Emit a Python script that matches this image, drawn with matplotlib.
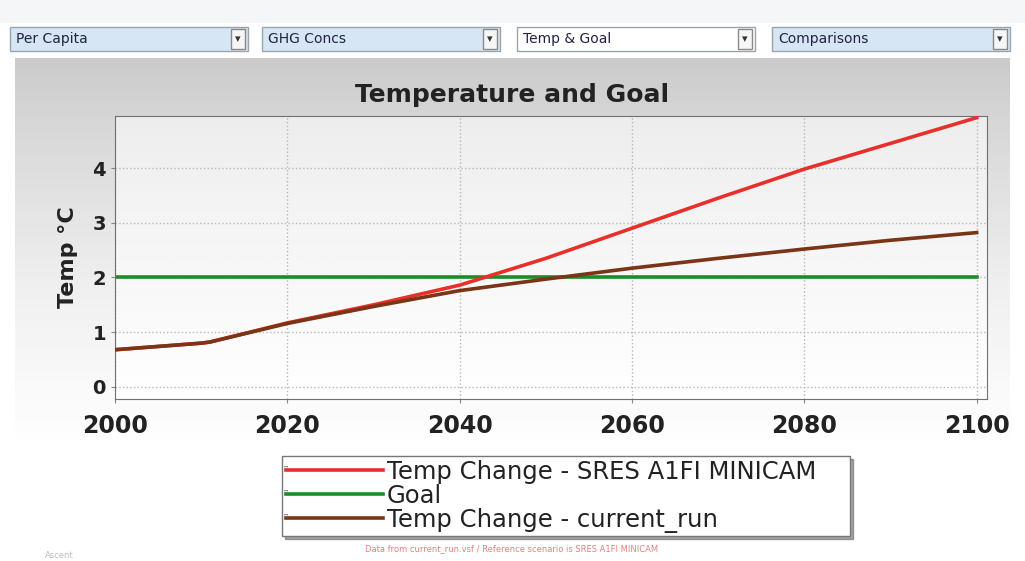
import numpy as np
import matplotlib.pyplot as plt
from matplotlib.patches import Rectangle

# data
years = [2000, 2010, 2011, 2020, 2030, 2040, 2050, 2060, 2070, 2080, 2090, 2100]
sres_a1fi = [0.68, 0.80, 0.82, 1.17, 1.50, 1.86, 2.35, 2.90, 3.45, 3.98, 4.45, 4.92]
current_run = [0.68, 0.80, 0.82, 1.16, 1.47, 1.76, 1.97, 2.17, 2.35, 2.52, 2.68, 2.82]
goal_years = [2000, 2100]
goal = [2.0, 2.0]
series_names = ["Temp Change - SRES A1FI MINICAM", "Goal", "Temp Change - current_run"]
menus = ["Per Capita", "GHG Concs", "Temp & Goal", "Comparisons"]

W, H = 1025, 561
fig = plt.figure(figsize=(W / 100, H / 100), dpi=100)

# background panel, drawn in pixel coordinates
bg = fig.add_axes([0, 0, 1, 1])
bg.set_xlim(0, W)
bg.set_ylim(H, 0)
bg.axis("off")
grad = np.linspace(0, 1, 256).reshape(-1, 1)
bg.imshow(grad, cmap="Greys_r", vmin=-2.2, vmax=1.0, extent=(15, 1010, 445, 58),
          aspect="auto", zorder=0)
bg.add_patch(Rectangle((0, 0), W, 22, color="#f4f6f8", zorder=1))

# dropdown menus on top
menu_x = [10, 262, 517, 772]
menu_fill = ["#d6e6f4", "#d6e6f4", "#ffffff", "#d6e6f4"]
for mx, name, fc in zip(menu_x, menus, menu_fill):
    bg.add_patch(Rectangle((mx, 27), 238, 24, facecolor=fc, edgecolor="#9aa4ae", lw=1, zorder=2))
    bg.add_patch(Rectangle((mx + 221, 29), 14, 20, facecolor="#f6f6f6", edgecolor="#8a8a8a", lw=1, zorder=3))
    bg.text(mx + 228, 39, "▾", ha="center", va="center", fontsize=8, color="#333333", zorder=4)
    bg.text(mx + 6, 39, name, ha="left", va="center", fontsize=10, color="#222244", zorder=4)

# footer note and logo
bg.text(512, 549, "Data from current_run.vsf / Reference scenario is SRES A1FI MINICAM",
        ha="center", va="center", fontsize=6, color="#e06060", alpha=0.8)
bg.text(45, 556, "Ascent", ha="left", va="center", fontsize=6, color="#bbbbbb")

# main chart
ax = fig.add_axes([115 / W, 1 - 399 / H, 872 / W, 283 / H])
ax.imshow(np.linspace(0, 1, 256).reshape(-1, 1), cmap="Greys_r", vmin=-6, vmax=1,
          extent=(2000, 2101.2, -0.22, 4.95), aspect="auto", zorder=0)
ax.plot(years, sres_a1fi, color="#e8302a", lw=2.6, label=series_names[0], zorder=3)
ax.plot(goal_years, goal, color="#1f8a2a", lw=2.6, label=series_names[1], zorder=2)
ax.plot(years, current_run, color="#7a3416", lw=2.6, label=series_names[2], zorder=4)

ax.set_xlim(2000, 2101.2)
ax.set_ylim(-0.22, 4.95)
ax.set_xticks([2000, 2020, 2040, 2060, 2080, 2100])
ax.set_yticks([0, 1, 2, 3, 4])
ax.tick_params(axis="x", labelsize=17, length=3, color="#888888", pad=8)
ax.tick_params(axis="y", labelsize=14, length=3, color="#888888")
for lab in ax.get_xticklabels() + ax.get_yticklabels():
    lab.set_fontweight("bold")
    lab.set_color("#222222")
ax.grid(True, ls=":", color="#b8b8b8", lw=1)
for sp in ax.spines.values():
    sp.set_color("#707070")
fig.text(512 / W, 1 - 95 / H, "Temperature and Goal", fontsize=18, fontweight="bold",
         color="#222222", ha="center", va="center")
ax.set_ylabel("Temp °C", fontsize=16, fontweight="bold", color="#222222", labelpad=10)

leg = ax.legend(loc="upper left", bbox_to_anchor=(282 / W, 1 - 456 / H - 0.01, 568 / W, 0.01),
                bbox_transform=fig.transFigure, mode="expand", fontsize=17.5, frameon=True,
                fancybox=False, shadow=True, handlelength=4.0, handletextpad=0.15,
                labelspacing=0.0, borderpad=0.15, borderaxespad=0)
leg.get_frame().set_edgecolor("#777777")
leg.get_frame().set_linewidth(1)
for t in leg.get_texts():
    t.set_color("#222222")
# little check marks in front of each legend entry
for cy in [467, 491, 515]:
    fig.text(286 / W, 1 - cy / H, "▿", ha="center", va="center", fontsize=6,
             color="#666666", zorder=10)

fig.savefig("out.png", dpi=100)
